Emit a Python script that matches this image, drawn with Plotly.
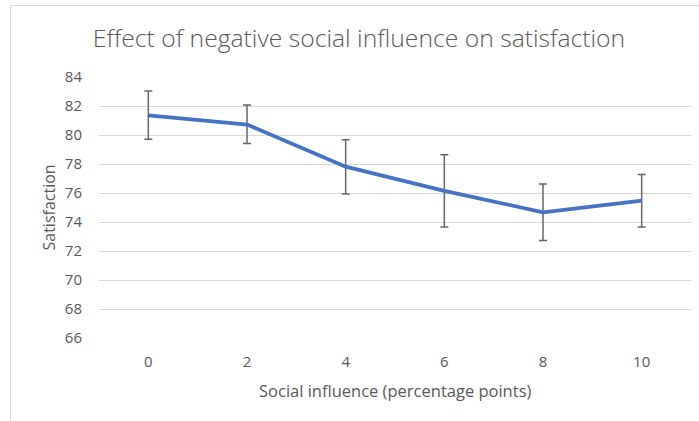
import plotly.graph_objects as go

# Data
influence = [0, 2, 4, 6, 8, 10]
satisfaction = [81.35, 80.72, 77.82, 76.15, 74.67, 75.47]
err_plus = [1.68, 1.35, 1.86, 2.49, 1.95, 1.81]
err_minus = [1.65, 1.31, 1.89, 2.49, 1.94, 1.81]
y_ticks = [66, 68, 70, 72, 74, 76, 78, 80, 82, 84]

title_text = "Effect of negative social influence on satisfaction"
x_title = "Social influence (percentage points)"
y_title = "Satisfaction"

W, H = 699, 421
L, R, T, B = 99, 8, 77, 83
plot_w = W - L - R
plot_h = H - T - B

TEXT = "#595959"
GRID = "#d9d9d9"
FONT = "Open Sans"

fig = go.Figure()
fig.add_trace(go.Scatter(
    x=influence,
    y=satisfaction,
    mode="lines",
    line=dict(color="#4472C4", width=3.75),
    error_y=dict(
        type="data",
        symmetric=False,
        array=err_plus,
        arrayminus=err_minus,
        color="#666666",
        thickness=1.5,
        width=4,
    ),
    showlegend=False,
))

fig.update_layout(
    width=W,
    height=H,
    margin=dict(l=L, r=R, t=T, b=B, autoexpand=False),
    paper_bgcolor="white",
    plot_bgcolor="white",
    font=dict(family=FONT, color=TEXT, size=15),
    title=dict(
        text=title_text,
        x=359 / W,
        xref="container",
        xanchor="center",
        y=1 - 38 / H,
        yref="container",
        yanchor="middle",
        font=dict(family=FONT, size=24.7, color=TEXT, weight=300),
    ),
    xaxis=dict(
        range=[-1, 11],
        tickvals=influence,
        ticktext=[str(v) for v in influence],
        showgrid=False,
        zeroline=False,
        showline=False,
        ticks="",
        ticklabelstandoff=13,
        tickfont=dict(size=15, color=TEXT),
        fixedrange=True,
    ),
    yaxis=dict(
        range=[66, 84],
        tickvals=y_ticks,
        showgrid=True,
        gridcolor=GRID,
        gridwidth=1,
        zeroline=False,
        showline=False,
        ticks="",
        ticklabelstandoff=16,
        tickfont=dict(size=15, color=TEXT),
        fixedrange=True,
    ),
    shapes=[
        dict(
            type="rect",
            xref="paper", yref="paper",
            x0=(10.5 - L) / plot_w, x1=1.5,
            y0=-1.0, y1=(H - B - 5.5) / plot_h,
            line=dict(color=GRID, width=1),
            fillcolor="rgba(0,0,0,0)",
            layer="below",
        )
    ],
    annotations=[
        dict(
            text=x_title,
            xref="paper", yref="paper",
            x=0.5, y=0,
            xanchor="center", yanchor="middle",
            yshift=-(390 - (H - B)),
            showarrow=False,
            font=dict(size=16.5, color=TEXT),
        ),
        dict(
            text=y_title,
            xref="paper", yref="paper",
            x=0, y=0.5,
            xanchor="center", yanchor="middle",
            xshift=48 - L,
            textangle=-90,
            showarrow=False,
            font=dict(size=16, color=TEXT),
        ),
    ],
)

fig.write_html(
    "out.html",
    config={"displayModeBar": False},
    post_script="document.body.style.margin='0';",
)
